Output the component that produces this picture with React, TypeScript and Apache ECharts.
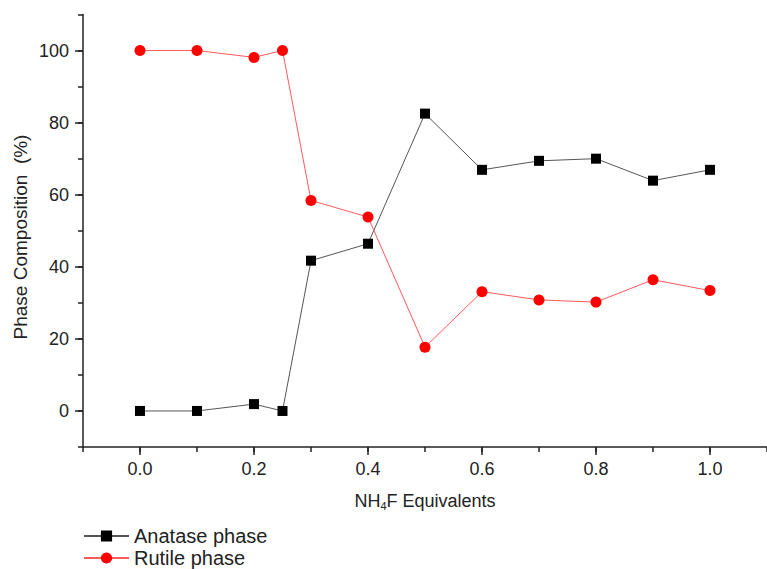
import React, { useEffect, useRef } from 'react';
import * as echarts from 'echarts';

// NH4F equivalents and phase fractions (%)
const equivalents = [0, 0.1, 0.2, 0.25, 0.3, 0.4, 0.5, 0.6, 0.7, 0.8, 0.9, 1.0];
const anatase = [0, 0, 1.9, 0, 41.7, 46.4, 82.5, 66.9, 69.4, 70.0, 63.9, 66.9];
const rutile = [100, 100, 98.1, 100, 58.4, 53.8, 17.7, 33.1, 30.8, 30.2, 36.4, 33.4];

const xMajorTicks = [0, 0.2, 0.4, 0.6, 0.8, 1.0];
const yMajorTicks = [0, 20, 40, 60, 80, 100];

const FONT = "'Liberation Sans', Arial, sans-serif";
const INK = '#222';

export default function App() {
  const ref = useRef<HTMLDivElement>(null);

  useEffect(() => {
    if (!ref.current) return;
    const chart = echarts.init(ref.current, undefined, { renderer: 'svg' });

    const axisLineStyle = { color: INK, width: 1.5 };
    const legendBase = {
      orient: 'vertical',
      left: 83,
      itemWidth: 45,
      itemHeight: 14,
      padding: 0,
      textStyle: { fontSize: 20, color: INK, fontFamily: FONT, lineHeight: 20 },
    };

    chart.setOption({
      animation: false,
      backgroundColor: '#fff',
      textStyle: { fontFamily: FONT },
      grid: { left: 83, top: 14.5, width: 694, height: 432.5, containLabel: false },
      xAxis: [
        {
          type: 'value',
          min: -0.1,
          max: 1.1,
          interval: 0.1,
          axisLine: { onZero: false, lineStyle: axisLineStyle },
          axisTick: { length: 5, lineStyle: axisLineStyle },
          axisLabel: { show: false },
          splitLine: { show: false },
        },
        {
          type: 'value',
          min: -0.1,
          max: 1.1,
          position: 'bottom',
          axisLine: { show: false, onZero: false },
          axisTick: { customValues: xMajorTicks, length: 8, lineStyle: axisLineStyle },
          axisLabel: {
            customValues: xMajorTicks,
            formatter: (v: number) => v.toFixed(1),
            margin: 13,
            fontSize: 18,
            color: INK,
            fontFamily: FONT,
          },
          splitLine: { show: false },
          name: '{t|NH}{s|4}{t|F Equivalents}',
          nameLocation: 'middle',
          nameGap: 44,
          nameTextStyle: {
            rich: {
              t: { fontSize: 18, color: INK, fontFamily: FONT, lineHeight: 20 },
              s: { fontSize: 11, color: INK, fontFamily: FONT, lineHeight: 20, verticalAlign: 'bottom', padding: [7, 0, 0, 0] },
            },
          },
        },
      ],
      yAxis: [
        {
          type: 'value',
          min: -10,
          max: 110,
          interval: 10,
          axisLine: { onZero: false, lineStyle: axisLineStyle },
          axisTick: { length: 5, lineStyle: axisLineStyle },
          axisLabel: { show: false },
          splitLine: { show: false },
        },
        {
          type: 'value',
          min: -10,
          max: 110,
          position: 'left',
          axisLine: { show: false, onZero: false },
          axisTick: { customValues: yMajorTicks, length: 8, lineStyle: axisLineStyle },
          axisLabel: {
            customValues: yMajorTicks,
            margin: 14,
            fontSize: 18,
            color: INK,
            fontFamily: FONT,
          },
          splitLine: { show: false },
        },
      ],
      legend: [
        { ...legendBase, data: ['Anatase phase'], top: 526 },
        { ...legendBase, data: ['Rutile phase'], top: 548 },
      ],
      graphic: [
        {
          type: 'text',
          x: 20,
          y: 237,
          rotation: Math.PI / 2,
          style: {
            text: 'Phase Composition  (%)',
            fontSize: 19,
            fontFamily: FONT,
            fill: INK,
            align: 'center',
            verticalAlign: 'middle',
          },
        },
      ],
      series: [
        {
          name: 'Anatase phase',
          type: 'line',
          xAxisIndex: 0,
          yAxisIndex: 0,
          data: equivalents.map((x, i) => [x, anatase[i]]),
          symbol: 'rect',
          symbolSize: 10,
          itemStyle: { color: '#000' },
          lineStyle: { color: '#555', width: 1 },
        },
        {
          name: 'Rutile phase',
          type: 'line',
          xAxisIndex: 0,
          yAxisIndex: 0,
          data: equivalents.map((x, i) => [x, rutile[i]]),
          symbol: 'circle',
          symbolSize: 11,
          itemStyle: { color: '#ff0000' },
          lineStyle: { color: '#ff5a5a', width: 1 },
        },
      ],
    });

    return () => chart.dispose();
  }, []);

  return (
    <div
      ref={ref}
      style={{ position: 'absolute', left: 0, top: 0, width: 767, height: 569, background: '#fff' }}
    />
  );
}
